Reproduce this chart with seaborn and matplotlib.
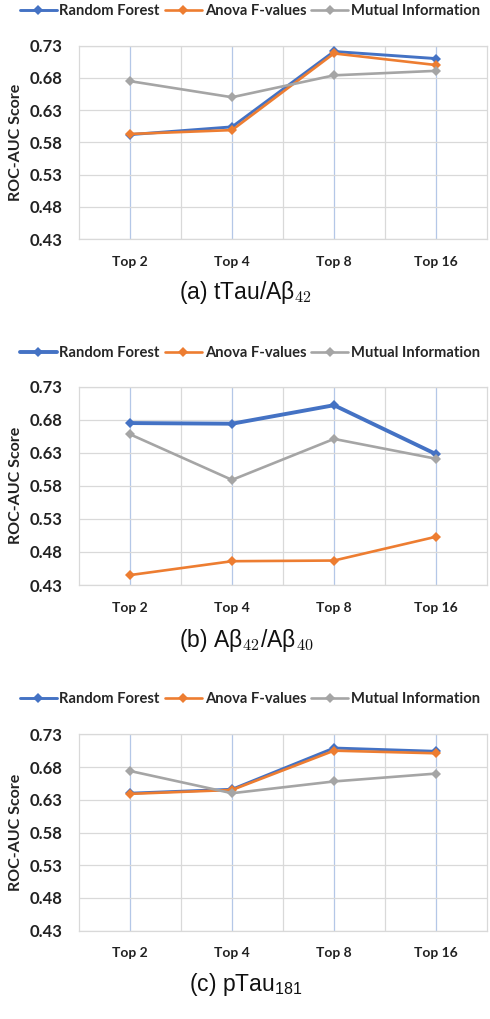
import numpy as np
import pandas as pd
import matplotlib
matplotlib.use("Agg")
import matplotlib.pyplot as plt
from matplotlib.lines import Line2D
from matplotlib.ticker import FixedLocator
import seaborn as sns

# ---------------- data ----------------
categories = ["Top 2", "Top 4", "Top 8", "Top 16"]
methods = ["Random Forest", "Anova F-values", "Mutual Information"]

a_rf = [0.592, 0.604, 0.721, 0.710]
a_anova = [0.593, 0.599, 0.718, 0.700]
a_mi = [0.675, 0.650, 0.684, 0.691]

b_rf = [0.675, 0.674, 0.702, 0.628]
b_anova = [0.445, 0.466, 0.467, 0.503]
b_mi = [0.658, 0.589, 0.651, 0.621]

c_rf = [0.640, 0.646, 0.709, 0.704]
c_anova = [0.639, 0.645, 0.705, 0.701]
c_mi = [0.674, 0.640, 0.658, 0.670]

yticks = [0.43, 0.48, 0.53, 0.58, 0.63, 0.68, 0.73]
ylabel = "ROC-AUC Score"
captions = [r"(a) tTau/Aβ$_{42}$", r"(b) Aβ$_{42}$/Aβ$_{40}$", r"(c) pTau$_{181}$"]

panels = [(a_rf, a_anova, a_mi), (b_rf, b_anova, b_mi), (c_rf, c_anova, c_mi)]

colors = {"Random Forest": "#4472C4", "Anova F-values": "#ED7D31", "Mutual Information": "#A5A5A5"}

# ---------------- style ----------------
sns.set_theme(style="white")
plt.rcParams["font.family"] = ["Lato", "DejaVu Sans"]
plt.rcParams["mathtext.rm"] = "Liberation Sans"
plt.rcParams["mathtext.it"] = "Liberation Sans:italic"
plt.rcParams["mathtext.bf"] = "Liberation Sans:bold"

W, H = 490, 1019
fig = plt.figure(figsize=(W / 100, H / 100), dpi=100)

# pixel layout (top, bottom) of each plot area
ax_px = [(45.7, 239.0), (386.7, 585.0), (734.3, 930.7)]
legend_y = [11, 353, 699]
caption_y = [293, 640, 985]
left_px, right_px = 79, 487
rf_lw = [2.1, 2.8, 2.1]
txt = "#222222"

for i, (vals, (top, bot)) in enumerate(zip(panels, ax_px)):
    ax = fig.add_axes([left_px / W, 1 - bot / H, (right_px - left_px) / W, (bot - top) / H])
    df = pd.DataFrame({
        "cat": categories * 3,
        "x": list(range(len(categories))) * 3,
        "score": vals[0] + vals[1] + vals[2],
        "method": [m for m in methods for _ in categories],
    })
    for m, lw in zip(methods, [rf_lw[i], 1.9, 1.9]):
        sub = df[df["method"] == m]
        sns.lineplot(data=sub, x="x", y="score", color=colors[m], marker="D",
                     markersize=5.5, markeredgewidth=0, linewidth=lw, ax=ax,
                     legend=False, zorder=3, sort=False)

    ax.set_xlim(-0.5, len(categories) - 0.5)
    ax.set_ylim(yticks[0], yticks[-1])
    ax.set_yticks(yticks)
    ax.set_yticklabels([f"{t:.2f}" for t in yticks], fontsize=12, fontweight="bold", color=txt)
    ax.set_xticks(range(len(categories)))
    ax.set_xticklabels(categories, fontsize=10, fontweight="bold", color=txt)
    ax.xaxis.set_minor_locator(FixedLocator(np.arange(0.5, len(categories) - 0.5, 1.0)))
    ax.tick_params(axis="both", which="both", length=0)
    ax.tick_params(axis="x", pad=12)
    ax.tick_params(axis="y", pad=12)
    ax.grid(True, axis="y", which="major", color="#D9D9D9", linewidth=0.9)
    ax.grid(True, axis="x", which="major", color="#B4C7E7", linewidth=0.9)
    ax.grid(True, axis="x", which="minor", color="#D9D9D9", linewidth=0.9)
    ax.set_axisbelow(True)
    for s in ax.spines.values():
        s.set_color("#D9D9D9")
        s.set_linewidth(0.9)
    ax.set_xlabel("")
    ax.set_ylabel(ylabel, fontsize=11.5, fontweight="bold", color=txt, labelpad=5)

    handles = [Line2D([0], [0], color=colors[m], marker="D", markersize=5.5, markeredgewidth=0,
                      linewidth=(rf_lw[i] if m == "Random Forest" else 1.9)) for m in methods]
    fig.legend(handles, methods, loc="center", bbox_to_anchor=(250 / W, 1 - legend_y[i] / H),
               ncol=3, frameon=False, handlelength=2.5, handletextpad=0.2,
               columnspacing=0.35, prop={"weight": "bold", "size": 10.6})

    fig.text(246 / W, 1 - caption_y[i] / H, captions[i], ha="center", va="center",
             fontsize=16.5, fontweight="normal", family=["Liberation Sans"],
             math_fontfamily=("cm" if i < 2 else "custom"), color="#111111")

fig.savefig("out.png", dpi=100)
